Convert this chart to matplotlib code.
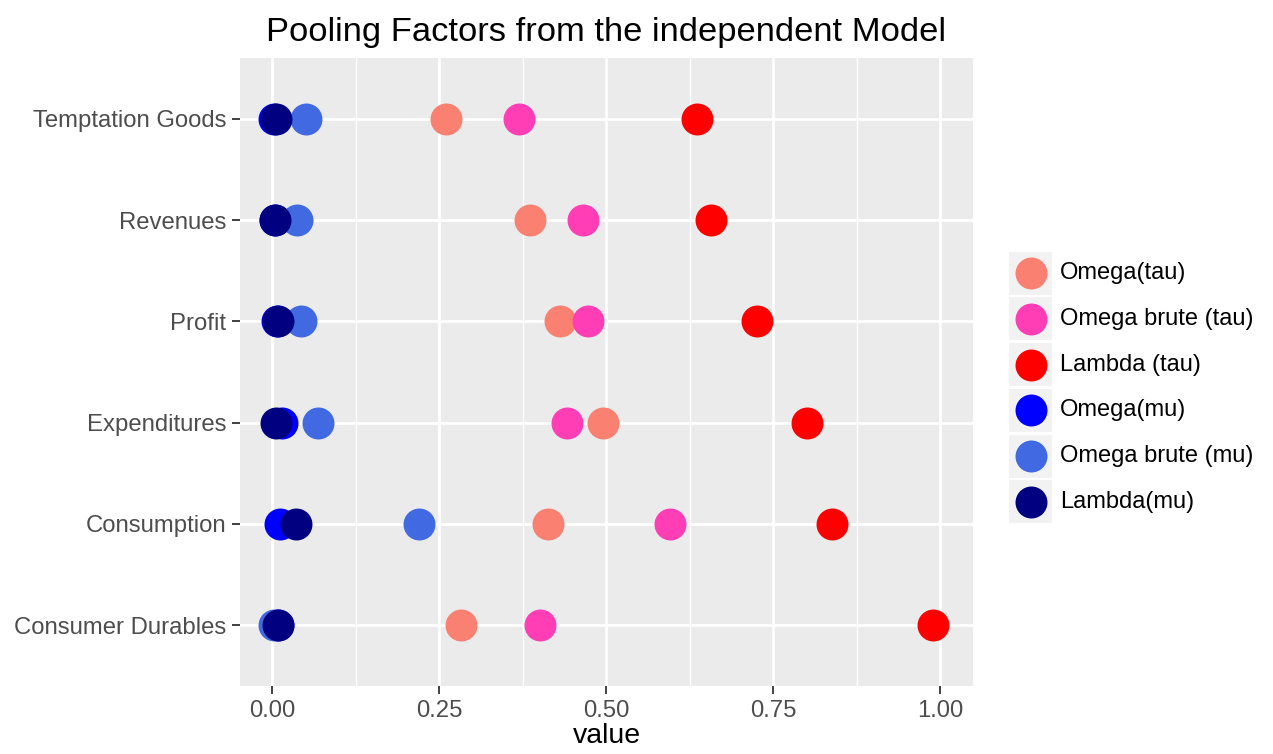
import matplotlib
matplotlib.use('Agg')
import matplotlib.pyplot as plt
from matplotlib.patches import Rectangle

plt.rcParams['font.family'] = ['Liberation Sans', 'DejaVu Sans']

categories = ['Consumer Durables', 'Consumption', 'Expenditures', 'Profit', 'Revenues', 'Temptation Goods']
series = ['Omega(tau)', 'Omega brute (tau)', 'Lambda (tau)', 'Omega(mu)', 'Omega brute (mu)', 'Lambda(mu)']
colors = ['#FA8072', '#FF3DB4', '#FF0000', '#0000FF', '#4169E1', '#000080']

omega_tau = [0.283, 0.413, 0.495, 0.431, 0.386, 0.260]
omega_brute_tau = [0.401, 0.596, 0.441, 0.473, 0.465, 0.369]
lambda_tau = [0.989, 0.838, 0.801, 0.726, 0.657, 0.636]
omega_mu = [0.009, 0.012, 0.014, 0.007, 0.004, 0.003]
omega_brute_mu = [0.002, 0.220, 0.069, 0.043, 0.037, 0.050]
lambda_mu = [0.009, 0.035, 0.0055, 0.009, 0.0045, 0.006]
values = [omega_tau, omega_brute_tau, lambda_tau, omega_mu, omega_brute_mu, lambda_mu]

W, H = 1273, 754
fig = plt.figure(figsize=(W / 100, H / 100), dpi=100)
left, right, top, bottom = 240, 973, 58, 686
ax = fig.add_axes([left / W, 1 - bottom / H, (right - left) / W, (bottom - top) / H])
ax.set_facecolor('#EBEBEB')
for s in ax.spines.values():
    s.set_visible(False)

ypos = list(range(1, len(categories) + 1))
for vals, col in zip(values, colors):
    ax.scatter(vals, ypos, s=530, color=col, linewidths=0, zorder=3)

ax.set_xlim(-0.0484, 1.0494)
ax.set_ylim(0.4, 6.6)
ax.set_xticks([0, 0.25, 0.5, 0.75, 1.0])
ax.set_xticklabels(['0.00', '0.25', '0.50', '0.75', '1.00'])
ax.set_xticks([0.125, 0.375, 0.625, 0.875], minor=True)
ax.set_yticks(ypos)
ax.set_yticklabels(categories)
ax.grid(which='major', color='white', linewidth=2.0, zorder=1)
ax.grid(which='minor', axis='x', color='white', linewidth=1.0, zorder=1)
ax.set_axisbelow(True)
ax.tick_params(which='major', length=6, width=1.3, color='#333333', labelcolor='#4D4D4D',
               labelsize=17.2, pad=4)
ax.tick_params(which='minor', length=0)
ax.set_xlabel('value', fontsize=20.5, labelpad=1)
ax.set_title('Pooling Factors from the independent Model', fontsize=24.8, pad=12)

# legend
lax = fig.add_axes([0, 0, 1, 1])
lax.set_xlim(0, W)
lax.set_ylim(H, 0)
lax.axis('off')
pitch = 45.7
y0 = 251.7
for i, (name, col) in enumerate(zip(series, colors)):
    ky = y0 + i * pitch
    lax.add_patch(Rectangle((1009, ky), 43, 43, facecolor='#F2F2F2', edgecolor='none'))
    lax.scatter([1030.5], [ky + 21.5], s=530, color=col, linewidths=0)
    lax.text(1060, ky + 21.5, name, fontsize=17.0, va='center', ha='left', color='black')

fig.savefig('out.png', dpi=100)
